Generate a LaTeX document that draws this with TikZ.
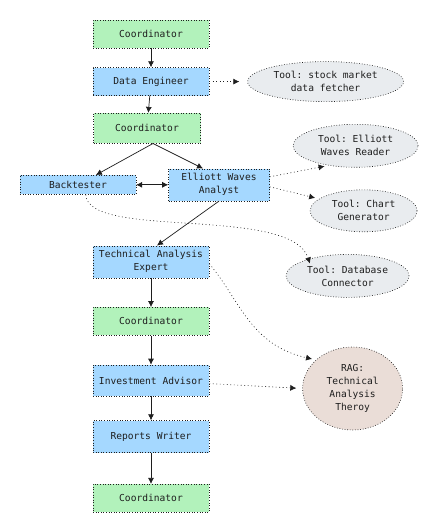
\documentclass[tikz,border=0pt]{standalone}
\usepackage{fontspec}
\setmonofont{DejaVu Sans Mono}
\usetikzlibrary{positioning, arrows.meta, shapes.geometric}
\definecolor{coordgreen}{HTML}{B2F2BB}
\definecolor{agentblue}{HTML}{A5D8FF}
\definecolor{toolgray}{HTML}{E9ECEF}
\definecolor{ragpink}{HTML}{EADDD7}
\definecolor{ink}{HTML}{1E1E1E}
\tikzset {
    >={Latex[length=6pt,width=6pt]},
    x=1pt, y=1pt,
    every node/.style={font=\ttfamily\fontsize{9.6}{13}\selectfont, text=ink, align=center},
    box/.style={rectangle, draw=ink, line width=0.6pt, dash pattern=on 0.8pt off 1.8pt,
        minimum width=116pt, minimum height=28pt, inner sep=1pt},
    coord/.style={box, fill=coordgreen},
    agent/.style={box, fill=agentblue},
    tool/.style={ellipse, draw=ink, line width=0.6pt, dash pattern=on 0.8pt off 1.8pt,
        fill=toolgray, minimum height=43pt, inner sep=0pt},
    memory/.style={ellipse, draw=ink, line width=0.6pt, dash pattern=on 0.8pt off 1.8pt,
        fill=ragpink, minimum width=100pt, minimum height=83pt, inner sep=0pt},
    flow/.style={->, draw=ink, line width=0.7pt},
    uses/.style={->, draw=ink, line width=0.6pt, dash pattern=on 0.9pt off 2.6pt, shorten >=4pt}
}

\begin{document}
\begin{tikzpicture}
    \useasboundingbox (0,0) rectangle (446,-519);

    \node[coord] (co1) at (151,-34) {Coordinator};
    \node[agent, below=19pt of co1] (de) {Data Engineer};
    \node[coord, below=17pt of de, xshift=-4pt, minimum width=107pt, minimum height=30pt] (co2) {Coordinator};
    \node[agent, below=25pt of co2, xshift=72pt, minimum width=101pt, minimum height=32pt] (ewa) {Elliott Waves\\Analyst};
    \node[agent, left=32pt of ewa, minimum height=19pt] (bt) {Backtester};
    \node[agent, below=102pt of co2, xshift=4pt, minimum height=32pt] (tae) {Technical Analysis\\Expert};
    \node[coord, below=29pt of tae] (co3) {Coordinator};
    \node[agent, below=29pt of co3, minimum height=31pt] (ia) {Investment Advisor};
    \node[agent, below=24pt of ia, minimum height=32pt] (rw) {Reports Writer};
    \node[coord, below=31pt of rw] (co4) {Coordinator};

    \node[tool, right=38pt of de, minimum width=156pt, minimum height=40pt] (t1) {Tool: stock market\\data fetcher};
    \node[tool, right=23pt of ewa, yshift=39pt, minimum width=125pt] (t2) {Tool: Elliott\\Waves Reader};
    \node[tool, right=40pt of ewa, yshift=-26pt, minimum width=107pt, minimum height=42pt] (t3) {Tool: Chart\\Generator};
    \node[tool, below=22pt of t3, xshift=-16pt, minimum width=123pt] (t4) {Tool: Database\\Connector};
    \node[memory, right=93pt of ia, yshift=-8pt] (rag) {RAG:\\Technical\\Analysis\\Theroy};

    % main flow
    \draw[flow] (co1) -- (de);
    \draw[flow] (de) -- (co2);
    \draw[flow] ([xshift=6pt]co2.south) -- ([xshift=18pt]bt.north);
    \draw[flow] ([xshift=6pt]co2.south) -- ([xshift=-16pt]ewa.north);
    \draw[flow, <->] (bt) -- (ewa);
    \draw[flow] (ewa.south) -- ([xshift=6pt]tae.north);
    \draw[flow] (tae) -- (co3);
    \draw[flow] (co3) -- (ia);
    \draw[flow] (ia) -- (rw);
    \draw[flow] (rw) -- (co4);

    % tools and knowledge
    \draw[uses, shorten >=8pt] (de) -- (t1);
    \draw[uses] ([yshift=8pt]ewa.east) -- (t2.216);
    \draw[uses] ([yshift=-2pt]ewa.east) -- (t3.165);
    \draw[uses, shorten >=0pt] ([xshift=8pt]bt.south) .. controls (87,-240) and (291,-205) .. ([xshift=6pt,yshift=-3pt]t4.north west);
    \draw[uses] ([yshift=-2pt]tae.east) .. controls (240,-300) and (250,-345) .. (rag.142);
    \draw[uses, shorten >=6pt] (ia) -- (rag.west);
\end{tikzpicture}
\end{document}
